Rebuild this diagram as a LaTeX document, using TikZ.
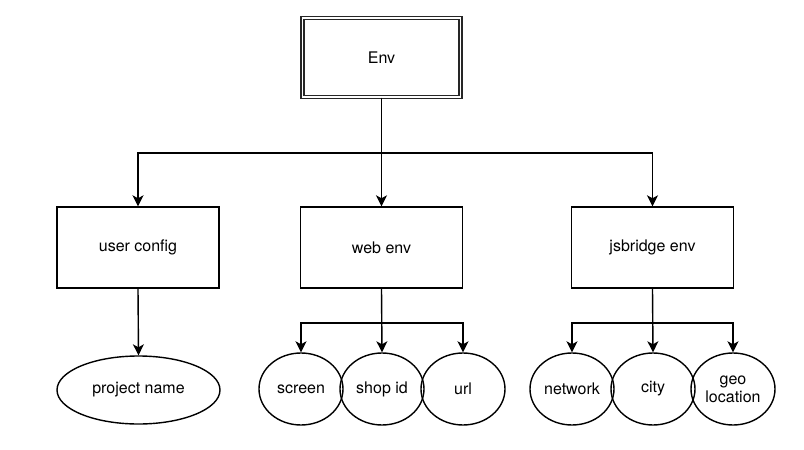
\documentclass[tikz,border=0pt]{standalone}
\usepackage{fontspec}
\setmainfont{TeX Gyre Heros}
\usetikzlibrary{shapes.geometric,arrows.meta}
\begin{document}
\begin{tikzpicture}[x=1pt,y=-1pt,
  every node/.style={font=\fontsize{16}{19}\selectfont},
  box/.style={draw=black,line width=1.4pt,rectangle,minimum width=162pt,minimum height=81pt,inner sep=0pt},
  envbox/.style={draw=black!85,line width=1.3pt,double,double distance=1.5pt,rectangle,minimum width=158pt,minimum height=79pt,inner sep=0pt},
  ell/.style={draw=black,line width=1.4pt,ellipse,minimum width=84pt,minimum height=72pt,inner sep=0pt,align=center},
  arr/.style={line width=1.4pt,-{Stealth[length=11pt,width=11pt,inset=3pt]}}]
\useasboundingbox (0,0) rectangle (804,450);
\node[envbox] (env) at (381.5,57.5) {Env};
\node[box] (uc) at (138,247.5) {user config};
\node[box] (web) at (381.5,247.5) {web env};
\node[box] (jb) at (652.5,247.5) {jsbridge env};
\node[ell,minimum width=163pt,minimum height=68pt] (pn) at (138.5,390) {project name};
\node[ell] (scr) at (301,389) {screen};
\node[ell] (shop) at (382,389) {shop id};
\node[ell] (url) at (463,389) {url};
\node[ell] (net) at (572,389) {network};
\node[ell] (city) at (653,389) {city};
\node[ell] (geo) at (733,389) {geo\\[-1pt]location};
\coordinate (j1) at (381.5,153);
\coordinate (j2) at (381.5,323);
\coordinate (j3) at (652.5,323);
\draw[arr] (env.south) -- (web.north);
\draw[arr] (j1) -| (uc.north);
\draw[arr] (j1) -| (jb.north);
\draw[arr] (uc.south) -- (pn.north);
\draw[arr] (web.south) -- (shop.north);
\draw[arr] (j2) -| (scr.north);
\draw[arr] (j2) -| (url.north);
\draw[arr] (jb.south) -- (city.north);
\draw[arr] (j3) -| (net.north);
\draw[arr] (j3) -| (geo.north);
\end{tikzpicture}
\end{document}
